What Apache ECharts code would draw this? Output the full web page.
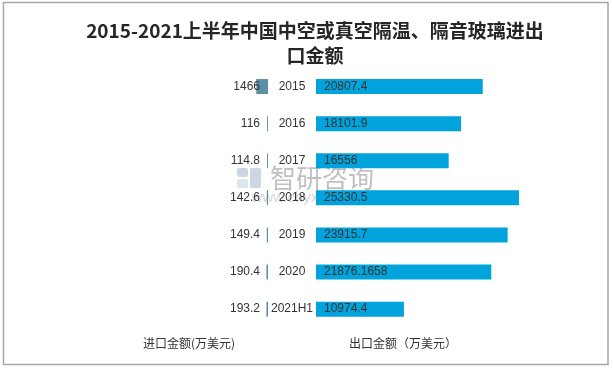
<!DOCTYPE html>
<html>
<head>
<meta charset="utf-8">
<script src="https://cdn.jsdelivr.net/npm/echarts@6/dist/echarts.min.js"></script>
<style>
html,body{margin:0;padding:0;background:#fff;}
#chart{width:613px;height:369px;}
</style>
</head>
<body>
<div id="chart"></div>
<script>
const categories = ['2015', '2016', '2017', '2018', '2019', '2020', '2021H1'];
const importValues = [1466, 116, 114.8, 142.6, 149.4, 190.4, 193.2];
const exportValues = [20807.4, 18101.9, 16556, 25330.5, 23915.7, 21876.1658, 10974.4];
const titleText = '2015-2021上半年中国中空或真空隔温、隔音玻璃进出\n口金额';
const importName = '进口金额(万美元)';
const exportName = '出口金额（万美元）';

const chart = echarts.init(document.getElementById('chart'), null, {renderer: 'canvas'});
const axisMax = 30000;
const numFont = '"Liberation Sans", "Noto Sans CJK SC", sans-serif';
const cjkFont = '"Noto Sans CJK SC", sans-serif';

chart.setOption({
  animation: false,
  backgroundColor: '#ffffff',
  grid: [
    {left: 27.6, width: 240.4, top: 68, height: 259.7},
    {left: 316, width: 240.4, top: 68, height: 259.7}
  ],
  xAxis: [
    {gridIndex: 0, type: 'value', min: 0, max: axisMax, inverse: true, show: false, splitLine: {show: false}},
    {gridIndex: 1, type: 'value', min: 0, max: axisMax, show: false, splitLine: {show: false}}
  ],
  yAxis: [
    {gridIndex: 0, type: 'category', data: categories, inverse: true, show: false},
    {gridIndex: 1, type: 'category', data: categories, inverse: true,
      axisLine: {show: false}, axisTick: {show: false},
      axisLabel: {show: true, align: 'center', margin: 24, color: '#333333', fontSize: 12, fontFamily: numFont}}
  ],
  series: [
    {
      name: importName, type: 'bar', xAxisIndex: 0, yAxisIndex: 0, data: importValues,
      barWidth: 15, itemStyle: {color: '#5b8fa6'},
      label: {show: true, position: 'insideRight', distance: 8, color: '#333333', fontSize: 12, fontFamily: numFont}
    },
    {
      name: exportName, type: 'bar', xAxisIndex: 1, yAxisIndex: 1, data: exportValues,
      barWidth: 15, itemStyle: {color: '#00a3dc'},
      label: {show: true, position: 'insideLeft', distance: 8, color: '#333333', fontSize: 12, fontFamily: numFont}
    }
  ],
  graphic: [
    {type: 'rect', shape: {x: 3.5, y: 2.5, width: 604.5, height: 362}, style: {fill: 'none', stroke: '#a6a6a6', lineWidth: 1.5}, z: 10},
    {type: 'text', x: 315, y: 18.5, style: {text: titleText, fontSize: 19, fontWeight: 'bold', fontFamily: cjkFont, fill: '#262626', align: 'center', verticalAlign: 'top', lineHeight: 25}},
    {type: 'text', x: 189, y: 343, style: {text: importName, fontSize: 12, fontFamily: cjkFont, fill: '#333333', align: 'center', verticalAlign: 'middle'}},
    {type: 'text', x: 403, y: 343, style: {text: exportName, fontSize: 12, fontFamily: cjkFont, fill: '#333333', align: 'center', verticalAlign: 'middle'}},
    {type: 'group', z: 20, children: [
      {type: 'rect', shape: {x: 237, y: 168, width: 11, height: 9, r: 2}, style: {fill: 'rgba(165,180,205,0.55)'}},
      {type: 'rect', shape: {x: 250, y: 168, width: 11, height: 20, r: 2}, style: {fill: 'rgba(165,180,205,0.55)'}},
      {type: 'rect', shape: {x: 237, y: 179, width: 11, height: 9, r: 2}, style: {fill: 'rgba(190,210,230,0.55)'}},
      {type: 'text', x: 322, y: 178, style: {text: '智研咨询', fontSize: 26, fontFamily: cjkFont, fill: 'rgba(140,140,140,0.55)', align: 'center', verticalAlign: 'middle'}},
      {type: 'text', x: 305, y: 198, style: {text: 'www.chyxx.com', fontSize: 15, fontFamily: numFont, fill: 'rgba(150,150,150,0.4)', align: 'center', verticalAlign: 'middle'}}
    ]}
  ]
});
</script>
</body>
</html>
